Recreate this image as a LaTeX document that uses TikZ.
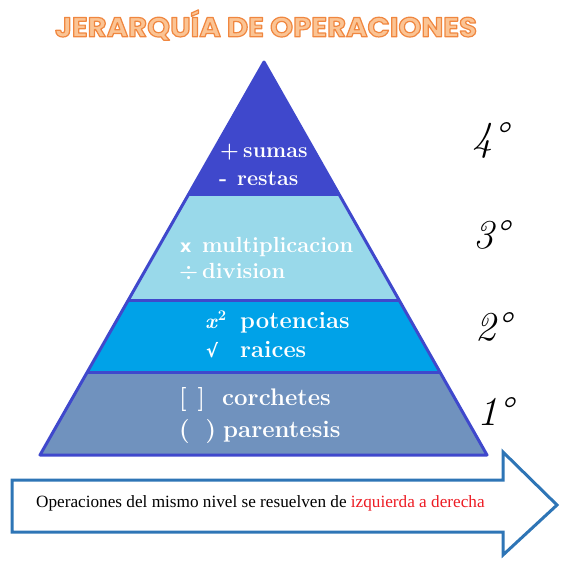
\documentclass[tikz,border=0pt]{standalone}
\usepackage{fontspec}
\usetikzlibrary{calc}
\newfontfamily\titlefont{Poppins}
\newfontfamily\arrowfont{Liberation Serif}
\newfontfamily\symfont{DejaVu Sans}
\definecolor{edgeblue}{RGB}{63,72,204}
\definecolor{cfour}{RGB}{63,72,204}
\definecolor{cthree}{RGB}{153,217,234}
\definecolor{ctwo}{RGB}{0,162,232}
\definecolor{cone}{RGB}{112,146,190}
\definecolor{arrowblue}{RGB}{46,117,182}
\definecolor{textred}{RGB}{237,28,36}
\definecolor{titlefill}{RGB}{251,196,148}
\newcommand{\outlinedtext}[1]{\special{pdf:literal direct 2 Tr 1.2 w 1 J 1 j 0.94 0.53 0.25 RG}#1\special{pdf:literal direct 0 Tr}}
\begin{document}
\begin{tikzpicture}[x=1pt,y=-1pt,
  lt/.style={anchor=base west, inner sep=0pt, text=white, font=\bfseries\fontsize{#1}{#1}\selectfont},
  ordinal/.style={anchor=base west, inner sep=0pt, font=\itshape\fontsize{41}{41}\selectfont},
  edge/.style={draw=edgeblue, line width=3pt, line join=round},
  arrowshape/.style={draw=arrowblue, fill=white, line width=3pt, line join=miter}]
\useasboundingbox (0,0) rectangle (569,565);
% title
\node[inner sep=0pt] (title) at (266,25) {\resizebox{422pt}{27pt}{\titlefont\bfseries\fontsize{28}{28}\selectfont\color{titlefill}\outlinedtext{JERARQUÍA DE OPERACIONES}}};
% pyramid
\coordinate (A) at (264,62);
\coordinate (BL) at (40,455);
\coordinate (BR) at (487,455);
\coordinate (L3) at ($(A)!0.3384!(BL)$);
\coordinate (R3) at ($(A)!0.3384!(BR)$);
\coordinate (L2) at ($(A)!0.6056!(BL)$);
\coordinate (R2) at ($(A)!0.6056!(BR)$);
\coordinate (L1) at ($(A)!0.7913!(BL)$);
\coordinate (R1) at ($(A)!0.7913!(BR)$);
\fill[cfour] (A) -- (R3) -- (L3) -- cycle;
\fill[cthree] (L3) -- (R3) -- (R2) -- (L2) -- cycle;
\fill[ctwo] (L2) -- (R2) -- (R1) -- (L1) -- cycle;
\fill[cone] (L1) -- (R1) -- (BR) -- (BL) -- cycle;
\draw[edge] (L3) -- (R3) (L2) -- (R2) (L1) -- (R1);
\draw[edge] (A) -- (BR) -- (BL) -- cycle;
% layer 4
\node[lt=21.5] (p4a) at (220,157) {+};
\node[lt=21.5] (w4a) at (243,157) {sumas};
\node[lt=21.5] (p4b) at (219,185) {-};
\node[lt=21.5] (w4b) at (237,185) {restas};
% layer 3
\node[lt=17, font=\symfont\bfseries\fontsize{17.5}{17.5}\selectfont] (p3a) at (180,252) {x};
\node[lt=21.9] (w3a) at (202,252) {multiplicacion};
\node[lt=21.9] (p3b) at (179,278) {÷};
\node[lt=21.9] (w3b) at (202,278) {division};
% layer 2
\node[lt=21] (p2a) at (205,328) {\textit{x}\textsuperscript{2}};
\node[lt=23.8] (w2a) at (240,328) {potencias};
\node[lt=17, font=\symfont\bfseries\fontsize{18}{18}\selectfont] (p2b) at (206,357) {√};
\node[lt=23.8] (w2b) at (240,357) {raices};
% layer 1
\node[lt=24] (p1a) at (179,405) {[\hspace{11pt}]};
\node[lt=24] (w1a) at (222,405) {corchetes};
\node[lt=24] (p1b) at (179,437) {(\hspace{16pt})};
\node[lt=24] (w1b) at (223,437) {parentesis};
% ordinals
\node[ordinal] (o4) at (472,150) {4°};
\node[ordinal] (o3) at (473,248) {3°};
\node[ordinal] (o2) at (475,340) {2°};
\node[ordinal] (o1) at (477,425) {1°};
% arrow
\coordinate (a1) at (12,480);
\coordinate (a2) at (503,480);
\coordinate (a3) at (503,452);
\coordinate (a4) at (557,505);
\coordinate (a5) at (503,555);
\coordinate (a6) at (503,532);
\coordinate (a7) at (12,532);
\draw[arrowshape] (a1) -- (a2) -- (a3) -- (a4) -- (a5) -- (a6) -- (a7) -- cycle;
\node[anchor=base west, inner sep=0pt, font=\arrowfont\fontsize{17.2}{17.2}\selectfont] (atext) at (36,507) {Operaciones del mismo nivel se resuelven de \textcolor{textred}{izquierda a derecha}};
\end{tikzpicture}
\end{document}
